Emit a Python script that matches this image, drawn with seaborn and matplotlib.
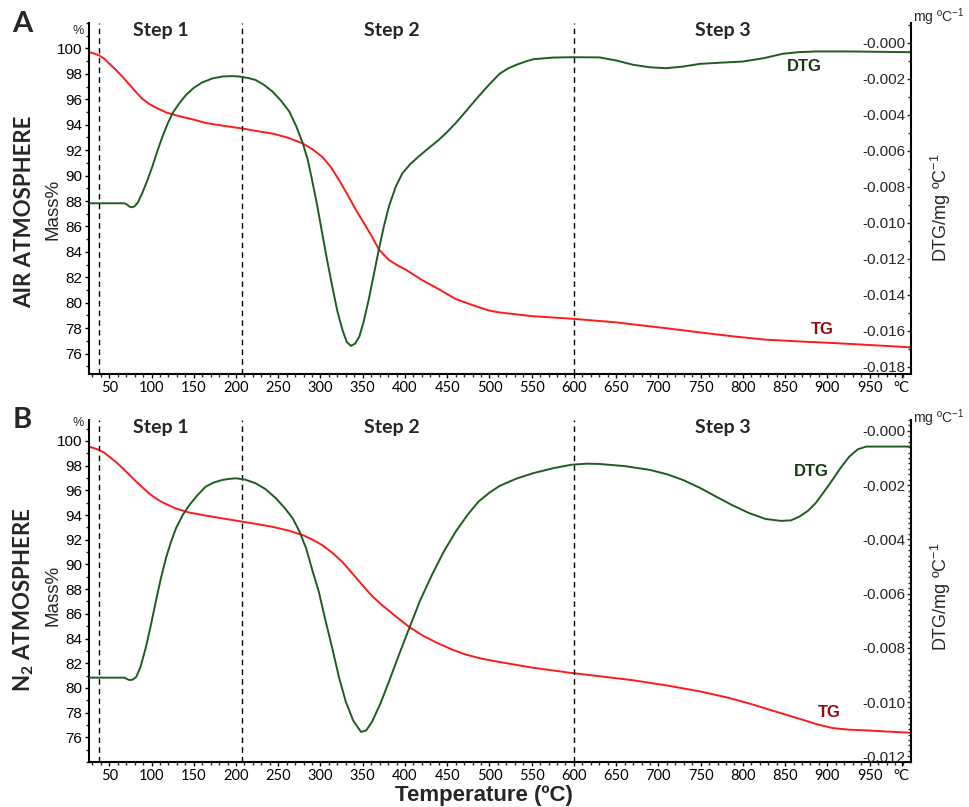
import matplotlib
matplotlib.use("Agg")
import matplotlib.pyplot as plt
import seaborn as sns
import pandas as pd
from matplotlib.ticker import MultipleLocator

# ---------------- data ----------------
# Panel A: air atmosphere
air_tg_temp = [26, 32, 38, 44, 50, 58, 66, 72, 78, 84, 89, 97, 105, 118, 133, 150, 164,
               185, 208, 225, 243, 262, 279, 291, 302, 312, 322, 332, 342, 352, 361,
               369, 381, 391, 401, 420, 440, 460, 479, 499, 512, 550, 597, 650, 709,
               749, 790, 827, 870, 906, 950, 998]
air_tg_mass = [99.71, 99.6, 99.45, 99.2, 98.8, 98.3, 97.75, 97.3, 96.84, 96.4, 96.05,
               95.65, 95.35, 94.95, 94.67, 94.4, 94.14, 93.92, 93.7, 93.5, 93.31, 92.97,
               92.53, 92.05, 91.48, 90.7, 89.65, 88.5, 87.3, 86.2, 85.2, 84.2, 83.37,
               82.95, 82.6, 81.8, 81.07, 80.3, 79.84, 79.4, 79.24, 78.95, 78.75, 78.46,
               78.0, 77.67, 77.35, 77.1, 76.95, 76.84, 76.68, 76.5]
air_dtg_temp = [26, 68, 71, 74, 77, 80, 84, 89, 95, 101, 107, 113, 119, 125, 133, 141,
                150, 160, 172, 184, 195, 204, 214, 223, 233, 243, 253, 263, 271, 279,
                285, 290, 296, 302, 308, 314, 320, 326, 331, 336, 341, 346, 351, 357,
                363, 369, 375, 381, 389, 397, 406, 416, 428, 440, 450, 460, 474, 487,
                500, 512, 522, 532, 542, 552, 575, 597, 630, 650, 670, 690, 709, 729,
                749, 775, 800, 825, 847, 866, 886, 926, 960, 998]
air_dtg_val = [-0.00891, -0.00891, -0.00898, -0.00910, -0.00913, -0.00908, -0.00885,
               -0.00835, -0.00765, -0.00687, -0.00600, -0.00520, -0.00450, -0.00390,
               -0.00335, -0.00289, -0.00250, -0.00220, -0.00198, -0.00187, -0.00185,
               -0.00187, -0.00195, -0.00206, -0.00233, -0.00270, -0.00320, -0.00381,
               -0.00460, -0.00557, -0.00650, -0.00761, -0.00900, -0.01057, -0.01210,
               -0.01354, -0.01490, -0.01594, -0.01660, -0.01683, -0.01670, -0.01631,
               -0.01550, -0.01428, -0.01290, -0.01150, -0.01020, -0.00909, -0.00800,
               -0.00724, -0.00675, -0.00632, -0.00585, -0.00539, -0.00495, -0.00446,
               -0.00370, -0.00298, -0.00230, -0.00172, -0.00142, -0.00122, -0.00105,
               -0.00091, -0.00082, -0.00080, -0.00081, -0.00098, -0.00122, -0.00136,
               -0.00141, -0.00132, -0.00117, -0.00110, -0.00104, -0.00085, -0.00061,
               -0.00052, -0.00048, -0.00048, -0.00050, -0.00052]

# Panel B: N2 atmosphere
n2_tg_temp = [26, 32, 38, 44, 50, 58, 66, 74, 82, 90, 97, 105, 113, 128, 145, 165, 184,
              208, 225, 243, 262, 279, 291, 302, 314, 326, 338, 350, 361, 373, 389,
              405, 422, 440, 456, 472, 492, 512, 550, 597, 630, 670, 710, 749, 780,
              808, 838, 867, 888, 906, 925, 946, 970, 998]
n2_tg_mass = [99.54, 99.42, 99.27, 99.05, 98.73, 98.3, 97.78, 97.25, 96.7, 96.2, 95.76,
              95.35, 95.03, 94.55, 94.2, 93.95, 93.73, 93.46, 93.27, 93.05, 92.75, 92.38,
              92.0, 91.57, 90.95, 90.2, 89.25, 88.3, 87.45, 86.7, 85.8, 84.94, 84.2,
              83.59, 83.1, 82.7, 82.35, 82.1, 81.65, 81.21, 80.95, 80.62, 80.2, 79.72,
              79.25, 78.73, 78.1, 77.5, 77.05, 76.75, 76.62, 76.56, 76.47, 76.37]
n2_dtg_temp = [26, 68, 71, 74, 78, 82, 87, 93, 99, 105, 111, 117, 123, 129, 137, 145,
               155, 164, 174, 184, 192, 200, 211, 223, 235, 247, 257, 267, 275, 283,
               290, 298, 306, 314, 322, 330, 339, 348, 354, 361, 371, 381, 393, 405,
               418, 432, 446, 460, 474, 487, 500, 512, 532, 552, 575, 597, 615, 630,
               660, 690, 710, 729, 749, 768, 788, 808, 827, 845, 857, 867, 877, 886,
               896, 906, 916, 926, 936, 946, 970, 998]
n2_dtg_val = [-0.00910, -0.00910, -0.00915, -0.00919, -0.00917, -0.00907, -0.00870,
              -0.00802, -0.00720, -0.00630, -0.00545, -0.00470, -0.00410, -0.00359,
              -0.00310, -0.00273, -0.00235, -0.00206, -0.00190, -0.00181, -0.00177,
              -0.00175, -0.00180, -0.00193, -0.00215, -0.00248, -0.00282, -0.00322,
              -0.00370, -0.00433, -0.00510, -0.00593, -0.00700, -0.00802, -0.00910,
              -0.00999, -0.01070, -0.01110, -0.01105, -0.01073, -0.01005, -0.00925,
              -0.00825, -0.00728, -0.00625, -0.00531, -0.00445, -0.00372, -0.00310,
              -0.00261, -0.00228, -0.00203, -0.00176, -0.00156, -0.00138, -0.00125,
              -0.00121, -0.00122, -0.00130, -0.00144, -0.00160, -0.00181, -0.00210,
              -0.00242, -0.00275, -0.00304, -0.00325, -0.00332, -0.00330, -0.00316,
              -0.00295, -0.00267, -0.00225, -0.00181, -0.00135, -0.00095, -0.00068,
              -0.00058, -0.00058, -0.00058]

step_names = ["Step 1", "Step 2", "Step 3"]
step_label_temp = [111, 385, 776]
step_boundaries = [38, 207, 600]
mass_ticks = list(range(76, 101, 2))
temp_ticks = list(range(50, 951, 50))
temp_tick_labels = [str(t) for t in temp_ticks] + ["°C"]
air_dtg_ticks = [0.0, -0.002, -0.004, -0.006, -0.008, -0.010, -0.012, -0.014, -0.016, -0.018]
n2_dtg_ticks = [0.0, -0.002, -0.004, -0.006, -0.008, -0.010, -0.012]

# ---------------- style ----------------
sns.set_theme(style="ticks")
plt.rcParams["font.family"] = ["Liberation Sans", "DejaVu Sans"]
plt.rcParams["mathtext.default"] = "regular"

RED = "#ff1a1a"
GREEN = "#1f5c1f"
TG_TXT = "#8b0f0f"
DTG_TXT = "#163a16"

W, H = 969, 807
fig = plt.figure(figsize=(W / 100, H / 100), dpi=100)


def rect(x0, y0, x1, y1):
    return [x0 / W, 1 - y1 / H, (x1 - x0) / W, (y1 - y0) / H]


def panel(r, tg_t, tg_m, dtg_t, dtg_v, mass_lim, dtg_lim, dtg_ticks, dtg_minor,
          step_y, pct_y, unit_y, mass_lab_y, dtg_lab_y, dtg_txt, tg_txt):
    ax = fig.add_axes(r)
    df_tg = pd.DataFrame({"T": tg_t, "m": tg_m})
    sns.lineplot(data=df_tg, x="T", y="m", ax=ax, color=RED, lw=1.4, legend=False)
    ax.set_xlim(26, 999)
    ax.set_ylim(*mass_lim)
    for xb in step_boundaries:
        ax.axvline(xb, color="black", lw=1.0, ls=(0, (4, 3)))
    ax.set_yticks(mass_ticks, labels=[str(v) for v in mass_ticks], fontsize=11)
    ax.yaxis.set_minor_locator(MultipleLocator(1))
    ax.set_xticks(temp_ticks + [988], labels=temp_tick_labels, fontsize=10.5,
                  fontfamily="Lato")
    ax.xaxis.set_minor_locator(MultipleLocator(10))
    ax.tick_params(axis="both", which="major", direction="out", length=3, width=1,
                   pad=2, colors="black")
    ax.tick_params(axis="both", which="minor", direction="out", length=2, width=1)
    ax.set_xlabel("")
    ax.set_ylabel("Mass%", fontsize=13.5)
    ax.yaxis.set_label_coords(-0.034, mass_lab_y)
    for s in ["top", "right"]:
        ax.spines[s].set_visible(False)
    for s in ["left", "bottom"]:
        ax.spines[s].set_linewidth(1.5)
        ax.spines[s].set_color("black")
    ax.text(-0.013, pct_y, "%", transform=ax.transAxes, ha="center", va="center",
            fontsize=9)
    for name, tx in zip(step_names, step_label_temp):
        ax.text(tx, step_y, name, transform=ax.get_xaxis_transform(), ha="center",
                va="center", fontsize=14, fontweight="bold", fontfamily="Lato")
    ax.text(tg_txt[0], tg_txt[1], "TG", color=TG_TXT, fontsize=12,
            fontweight="bold", ha="center", va="center")

    ax2 = ax.twinx()
    df_dtg = pd.DataFrame({"T": dtg_t, "d": dtg_v})
    sns.lineplot(data=df_dtg, x="T", y="d", ax=ax2, color=GREEN, lw=1.4, legend=False)
    ax2.set_xlim(26, 999)
    ax2.set_ylim(*dtg_lim)
    ax2.set_yticks(dtg_ticks, labels=["-%.3f" % abs(v) for v in dtg_ticks],
                   fontsize=11)
    ax2.yaxis.set_minor_locator(MultipleLocator(dtg_minor))
    ax2.tick_params(axis="y", which="major", direction="in", length=3, width=1,
                    pad=-4)
    ax2.tick_params(axis="y", which="minor", direction="in", length=2, width=1)
    for lbl in ax2.get_yticklabels():
        lbl.set_horizontalalignment("right")
    ax2.set_ylabel("DTG/mg ºC$^{-1}$", fontsize=13)
    ax2.yaxis.set_label_coords(1.022, dtg_lab_y)
    for s in ["top", "left"]:
        ax2.spines[s].set_visible(False)
    ax2.spines["right"].set_linewidth(1.5)
    ax2.spines["right"].set_color("black")
    ax2.spines["bottom"].set_visible(False)
    ax2.text(1.003, unit_y, "mg ºC$^{-1}$", transform=ax2.transAxes, ha="left",
             va="center", fontsize=10)
    ax2.text(dtg_txt[0], dtg_txt[1], "DTG", color=DTG_TXT, fontsize=12,
             fontweight="bold", ha="center", va="center")
    return ax, ax2


panel(rect(89, 23, 911, 374), air_tg_temp, air_tg_mass, air_dtg_temp, air_dtg_val,
      (74.4, 102.0), (-0.01839, 0.0011), air_dtg_ticks, 0.001,
      step_y=0.98, pct_y=0.977, unit_y=1.017, mass_lab_y=0.47, dtg_lab_y=0.473,
      dtg_txt=(873, -0.00133), tg_txt=(894, 77.9))

panel(rect(89, 420, 911, 762), n2_tg_temp, n2_tg_mass, n2_dtg_temp, n2_dtg_val,
      (74.0, 101.7), (-0.01221, 0.0004), n2_dtg_ticks, 0.0002,
      step_y=0.977, pct_y=0.991, unit_y=1.006, mass_lab_y=0.488, dtg_lab_y=0.482,
      dtg_txt=(881, -0.00151), tg_txt=(902, 78.0))

fig.text(22 / W, 1 - 24 / H, "A", fontsize=21, fontweight="bold", fontfamily="Lato",
         ha="center", va="center")
fig.text(22 / W, 1 - 420 / H, "B", fontsize=21, fontweight="bold", fontfamily="Lato",
         ha="center", va="center")
fig.text(25 / W, 1 - 212 / H, "AIR ATMOSPHERE", rotation=90, fontsize=16,
         fontweight="bold", fontfamily="Lato", ha="center", va="center")
fig.text(24 / W, 1 - 600 / H, "N$_2$ ATMOSPHERE", rotation=90, fontsize=16,
         fontweight="bold", fontfamily="Lato", ha="center", va="center")
fig.text(484 / W, 1 - 795 / H, "Temperature (ºC)", fontsize=16, fontweight="bold",
         ha="center", va="center")

fig.savefig("out.png", dpi=100)
